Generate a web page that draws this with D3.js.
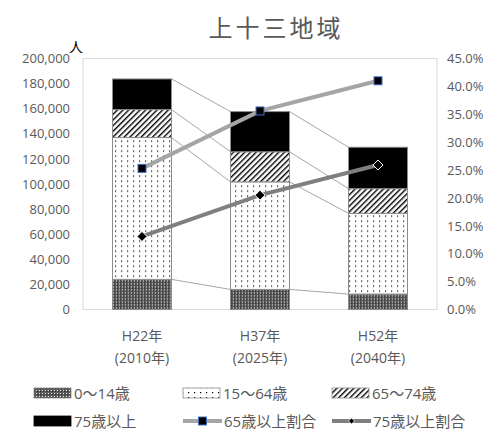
<!DOCTYPE html>
<html>
<head>
<meta charset="utf-8">
<script src="https://cdn.jsdelivr.net/npm/d3@7"></script>
<style>
  body { margin: 0; background: #fff; }
  text { font-family: "Open Sans", "Noto Sans CJK JP", sans-serif; fill: #595959; }
</style>
</head>
<body>
<svg width="496" height="437"></svg>
<script>
// categories
var years = ["H22年", "H37年", "H52年"];
var yearsWest = ["(2010年)", "(2025年)", "(2040年)"];

// population by age group (people)
var age0_14 = [24000, 16000, 12300];
var age15_64 = [113000, 85700, 64300];
var age65_74 = [22300, 24000, 19700];
var age75up = [24400, 32000, 33000];

// ratios (%)
var ratio65up = [25.3, 35.6, 41.0];
var ratio75up = [13.1, 20.5, 25.9];

var leftTicks = [0, 20000, 40000, 60000, 80000, 100000, 120000, 140000, 160000, 180000, 200000];
var rightTicks = [0, 5, 10, 15, 20, 25, 30, 35, 40, 45];

var barSeries = [
    { name: "0～14歳", values: age0_14, fill: "url(#pDark)" },
    { name: "15～64歳", values: age15_64, fill: "url(#pDots)" },
    { name: "65～74歳", values: age65_74, fill: "url(#pDiag)" },
    { name: "75歳以上", values: age75up, fill: "#000" }
];

var margin = { top: 58.5, right: 59, bottom: 127.5, left: 83 },
    width = 496 - margin.left - margin.right,
    height = 437 - margin.top - margin.bottom;

var svg = d3.select("svg");

// patterns
var defs = svg.append("defs");
var p1 = defs.append("pattern").attr("id", "pDark").attr("patternUnits", "userSpaceOnUse")
    .attr("width", 3).attr("height", 3);
p1.append("rect").attr("width", 3).attr("height", 3).attr("fill", "#5a5a5a");
p1.append("rect").attr("width", 1).attr("height", 1).attr("fill", "#e8e8e8");
p1.append("rect").attr("x", 1).attr("y", 1).attr("width", 1).attr("height", 1).attr("fill", "#222");

var p2 = defs.append("pattern").attr("id", "pDots").attr("patternUnits", "userSpaceOnUse")
    .attr("width", 6).attr("height", 5);
p2.append("rect").attr("width", 6).attr("height", 5).attr("fill", "#fff");
p2.append("rect").attr("x", 2).attr("y", 2).attr("width", 1.2).attr("height", 1.2).attr("fill", "#000");

var p3 = defs.append("pattern").attr("id", "pDiag").attr("patternUnits", "userSpaceOnUse")
    .attr("width", 4).attr("height", 4).attr("patternTransform", "rotate(45)");
p3.append("rect").attr("width", 4).attr("height", 4).attr("fill", "#fff");
p3.append("rect").attr("width", 1.4).attr("height", 4).attr("fill", "#000");

var g = svg.append("g")
    .attr("transform", "translate(" + margin.left + "," + margin.top + ")");

var x = d3.scaleBand()
    .domain(years)
    .range([0, width])
    .paddingInner(0.5)
    .paddingOuter(0.25);

var y = d3.scaleLinear()
    .domain([0, 200000])
    .range([height, 0]);

var yR = d3.scaleLinear()
    .domain([0, 45])
    .range([height, 0]);

// plot area border
g.append("rect")
    .attr("width", width)
    .attr("height", height)
    .attr("fill", "none")
    .attr("stroke", "#d9d9d9");

// title
svg.append("text")
    .attr("x", 276)
    .attr("y", 37)
    .attr("text-anchor", "middle")
    .style("font-family", "'Noto Sans CJK JP'")
    .style("font-size", "24px")
    .style("letter-spacing", "3px")
    .text("上十三地域");

svg.append("text")
    .attr("x", 76)
    .attr("y", 52)
    .attr("text-anchor", "middle")
    .style("font-family", "'Noto Sans CJK JP'")
    .style("font-size", "14px")
    .style("fill", "#000")
    .text("人");

// axes
var yAxis = g.append("g")
    .call(d3.axisLeft(y).tickValues(leftTicks).tickSize(0).tickPadding(13).tickFormat(d3.format(",")));
yAxis.select(".domain").remove();
yAxis.selectAll("text").style("font-size", "13px").style("fill", "#595959");

var yAxisR = g.append("g")
    .attr("transform", "translate(" + width + ",0)")
    .call(d3.axisRight(yR).tickValues(rightTicks).tickSize(0).tickPadding(10)
        .tickFormat(function (d) { return d3.format(".1f")(d) + "%"; }));
yAxisR.select(".domain").remove();
yAxisR.selectAll("text").style("font-size", "13px").style("fill", "#595959");

// x labels
years.forEach(function (yr, i) {
    var cx = x(yr) + x.bandwidth() / 2;
    g.append("text").attr("x", cx).attr("y", height + 31)
        .attr("text-anchor", "middle").style("font-size", "14px").text(yr);
    g.append("text").attr("x", cx).attr("y", height + 53)
        .attr("text-anchor", "middle").style("font-size", "14px").text(yearsWest[i]);
});

// stacked bars
var rows = years.map(function (yr, i) {
    var r = { year: yr };
    barSeries.forEach(function (s) { r[s.name] = s.values[i]; });
    return r;
});
var stack = d3.stack().keys(barSeries.map(function (s) { return s.name; }));
var stacked = stack(rows);

// series lines between bars
stacked.forEach(function (layer) {
    for (var i = 0; i < layer.length - 1; i++) {
        g.append("line")
            .attr("x1", x(years[i]) + x.bandwidth())
            .attr("y1", y(layer[i][1]))
            .attr("x2", x(years[i + 1]))
            .attr("y2", y(layer[i + 1][1]))
            .attr("stroke", "#a6a6a6")
            .attr("stroke-width", 1);
    }
});

stacked.forEach(function (layer, k) {
    g.append("g").selectAll("rect")
        .data(layer)
        .enter().append("rect")
        .attr("x", function (d) { return x(d.data.year); })
        .attr("y", function (d) { return y(d[1]); })
        .attr("width", x.bandwidth())
        .attr("height", function (d) { return y(d[0]) - y(d[1]); })
        .attr("fill", barSeries[k].fill)
        .attr("stroke", "#8c8c8c")
        .attr("stroke-width", 1);
});

// ratio lines
var line = d3.line()
    .x(function (d, i) { return x(years[i]) + x.bandwidth() / 2; })
    .y(function (d) { return yR(d); });

g.append("path").datum(ratio65up)
    .attr("fill", "none").attr("stroke", "#a5a5a5").attr("stroke-width", 4)
    .attr("d", line);
g.append("path").datum(ratio75up)
    .attr("fill", "none").attr("stroke", "#7f7f7f").attr("stroke-width", 4)
    .attr("d", line);

g.selectAll(".m65").data(ratio65up).enter().append("rect")
    .attr("class", "m65")
    .attr("x", function (d, i) { return x(years[i]) + x.bandwidth() / 2 - 4; })
    .attr("y", function (d) { return yR(d) - 4; })
    .attr("width", 8).attr("height", 8)
    .attr("fill", "#000").attr("stroke", "#4472c4").attr("stroke-width", 1);

var diamond = d3.symbol().type(d3.symbolDiamond2).size(64);
g.selectAll(".m75").data(ratio75up).enter().append("path")
    .attr("class", "m75")
    .attr("transform", function (d, i) {
        return "translate(" + (x(years[i]) + x.bandwidth() / 2) + "," + yR(d) + ")";
    })
    .attr("d", diamond)
    .attr("fill", "#000").attr("stroke", "#fff").attr("stroke-width", 1);

// legend
var legendItems = [
    { name: "0～14歳", type: "box", fill: "url(#pDark)", x: 34, y: 393 },
    { name: "15～64歳", type: "box", fill: "url(#pDots)", x: 183, y: 393 },
    { name: "65～74歳", type: "box", fill: "url(#pDiag)", x: 332, y: 393 },
    { name: "75歳以上", type: "box", fill: "#000", x: 34, y: 421 },
    { name: "65歳以上割合", type: "l65", x: 183, y: 421 },
    { name: "75歳以上割合", type: "l75", x: 332, y: 421 }
];

legendItems.forEach(function (it) {
    var lg = svg.append("g");
    var tx;
    if (it.type === "box") {
        lg.append("rect").attr("x", it.x).attr("y", it.y - 5).attr("width", 37).attr("height", 10)
            .attr("fill", it.fill).attr("stroke", it.fill === "#000" ? "#000" : "#8c8c8c").attr("stroke-width", 0.8);
        tx = it.x + 40;
    } else {
        var col = it.type === "l65" ? "#a5a5a5" : "#7f7f7f";
        lg.append("line").attr("x1", it.x).attr("x2", it.x + 39).attr("y1", it.y).attr("y2", it.y)
            .attr("stroke", col).attr("stroke-width", 4);
        if (it.type === "l65") {
            lg.append("rect").attr("x", it.x + 15.5).attr("y", it.y - 4).attr("width", 8).attr("height", 8)
                .attr("fill", "#000").attr("stroke", "#4472c4");
        } else {
            lg.append("path").attr("transform", "translate(" + (it.x + 19.5) + "," + it.y + ")")
                .attr("d", d3.symbol().type(d3.symbolDiamond2).size(24))
                .attr("fill", "#000").attr("stroke", "#fff").attr("stroke-width", 0.8);
        }
        tx = it.x + 41;
    }
    lg.append("text").attr("x", tx).attr("y", it.y + 5.5)
        .style("font-size", "15px").text(it.name);
});
</script>
</body>
</html>
